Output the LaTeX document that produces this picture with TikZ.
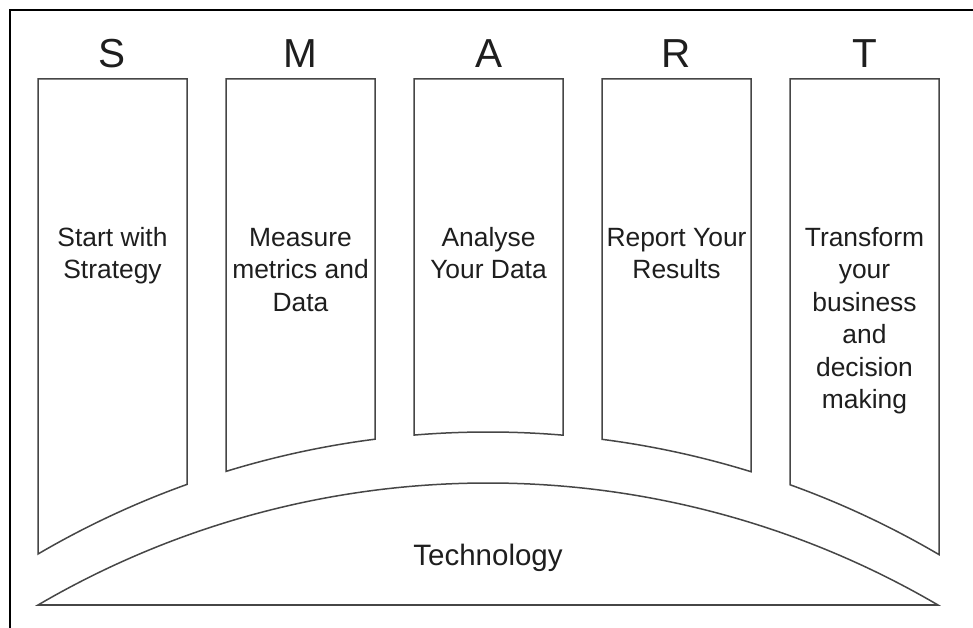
\documentclass[tikz,border=0pt]{standalone}
\usepackage{fontspec}
\setmainfont{Liberation Sans}
\definecolor{linegray}{RGB}{70,70,70}
\definecolor{textdark}{RGB}{30,30,30}
\begin{document}
\begin{tikzpicture}[x=1pt,y=-1pt,
  pillarbox/.style={draw=linegray,line width=1.5pt,line join=miter},
  bigletter/.style={font=\fontsize{40.5}{44}\selectfont,text=textdark,anchor=base,inner sep=0pt},
  bodytext/.style={font=\fontsize{26.4}{32.5}\selectfont,text=textdark,align=center,anchor=base,inner sep=0pt}]
\useasboundingbox (0,0) rectangle (973,628);
\fill[white] (0,0) rectangle (973,628);
\draw[line width=2pt] (10,628) -- (10,10) -- (973,10);

% pillars
\foreach \xl/\xr in {38/187,226/375,414/563,602/751,790/939}{
  \draw[pillarbox] (\xl,79) -- plot[domain=\xl:\xr,samples=40] (\x,{1322.9-100*sqrt(79.37-((\x-488)/100)^2)}) -- (\xr,79) -- cycle;
}

% base
\draw[pillarbox] plot[domain=38:938,samples=120] (\x,{1373.9-100*sqrt(79.37-((\x-488)/100)^2)}) -- cycle;
\coordinate (bl) at (38,605);
\coordinate (br) at (938,605);
\draw[draw=linegray,line width=2.2pt] (bl) -- (br);

% letters
\node[bigletter] (ls) at (112.5,68) {S};
\node[bigletter] (lm) at (300.5,68) {M};
\node[bigletter] (la) at (488.5,68) {A};
\node[bigletter] (lr) at (676.5,68) {R};
\node[bigletter] (lt) at (864.5,68) {T};

% texts (anchor base = baseline of last line; first baseline at 246)
\node[bodytext] (ts) at (112.5,278.5) {Start with\\Strategy};
\node[bodytext] (tm) at (300.5,311) {Measure\\metrics and\\Data};
\node[bodytext] (ta) at (488.5,278.5) {Analyse\\Your Data};
\node[bodytext] (tr) at (676.5,278.5) {Report Your\\Results};
\node[bodytext] (tt) at (864.5,408.5) {Transform\\your\\business\\and\\decision\\making};
\node[bodytext,font=\fontsize{29.5}{34}\selectfont] (tech) at (488,565) {Technology};
\end{tikzpicture}
\end{document}
